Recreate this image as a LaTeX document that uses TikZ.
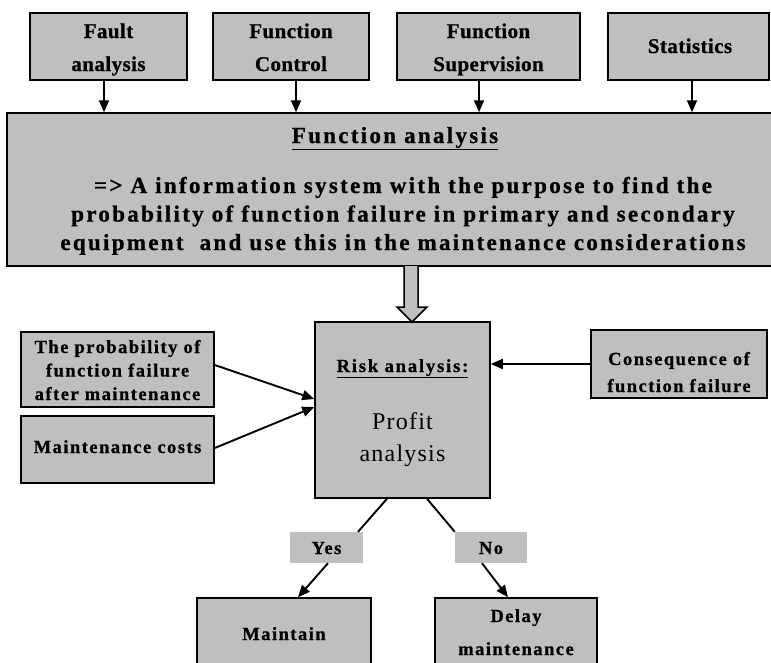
\documentclass[tikz,border=0pt]{standalone}
\usepackage{fontspec}
\setmainfont{Liberation Serif}
\newfontfamily\fTop[LetterSpace=2, BoldFeatures={FakeBold=0.8}]{Liberation Serif}
\newfontfamily\fSide[LetterSpace=8, BoldFeatures={FakeBold=0.8}]{Liberation Serif}
\newfontfamily\fBig[LetterSpace=10, BoldFeatures={FakeBold=0.8}]{Liberation Serif}
\newfontfamily\fRisk[LetterSpace=10, BoldFeatures={FakeBold=0.8}]{Liberation Serif}
\newfontfamily\fProfit[LetterSpace=5]{Liberation Serif}
\usetikzlibrary{arrows.meta,calc}
\definecolor{boxgray}{gray}{0.75}
\tikzset{
  box/.style={draw, fill=boxgray, line width=1.5pt, rectangle, inner sep=0pt},
  tag/.style={fill=boxgray, rectangle, inner sep=0pt},
  % multi-line texts are placed by the baseline of their last line
  txt/.style={inner sep=0pt, anchor=base, align=center},
  toptext/.style={txt, font=\fTop\bfseries\fontsize{21}{33}\selectfont},
  sidetext/.style={txt, font=\fSide\bfseries\fontsize{18.5}{23.5}\selectfont},
  bigtext/.style={txt, font=\fBig\bfseries\fontsize{23}{28.5}\selectfont},
  conn/.style={line width=1.9pt, -{Triangle[length=12pt,width=10pt]}},
  plain/.style={line width=1.9pt}
}
\begin{document}
\begin{tikzpicture}[x=1pt,y=-1pt]
\useasboundingbox (0,0) rectangle (771,662);

% input boxes along the top
\node[box, minimum width=157pt, minimum height=67pt] (fa) at (108.5,46.5) {};
\node[box, minimum width=156pt, minimum height=67pt] (fc) at (291,46.5) {};
\node[box, minimum width=183pt, minimum height=67pt] (fs) at (488.5,46.5) {};
\node[box, minimum width=161pt, minimum height=67pt] (st) at (688.5,46.5) {};
\node[toptext] (faT) at (108.5,71) {Fault\\analysis};
\node[toptext] (fcT) at (291,71) {Function\\Control};
\node[toptext] (fsT) at (488.5,71) {Function\\Supervision};
\node[toptext] (stT) at (690,53) {Statistics};

% function analysis band
\node[box, minimum width=780pt, minimum height=153pt] (big) at (397,189.5) {};
\node[bigtext] (bigT) at (395,143) {\underline{Function analysis}};
\node[bigtext] (bigB) at (403,250) {=> A information system with the purpose to find the\\
probability of function failure in primary and secondary\\
equipment~ and use this in the maintenance considerations};

\draw[conn] ([xshift=-4.5pt]fa.south) -- ([xshift=-4.5pt]fa.south |- big.north);
\draw[conn] ([xshift=5pt]fc.south) -- ([xshift=5pt]fc.south |- big.north);
\draw[conn] ([xshift=-9.5pt]fs.south) -- ([xshift=-9.5pt]fs.south |- big.north);
\draw[conn] ([xshift=3.5pt]st.south) -- ([xshift=3.5pt]st.south |- big.north);

% risk analysis box
\node[box, minimum width=175pt, minimum height=176pt] (risk) at (402.5,410) {};
\node[txt, font=\fRisk\bfseries\fontsize{18.5}{22}\selectfont] (riskT) at (402.5,372) {\underline{Risk analysis:}};
\node[txt, font=\fProfit\fontsize{24}{32}\selectfont] (profT) at (402.5,461) {Profit\\analysis};

% hollow arrow from the band into the risk box
\coordinate (tip) at (412,322);
\draw[fill=boxgray, line width=1.5pt, line join=miter]
  (404,266) -- (404,307) -- (397,307) -- (tip) -- (427,307) -- (418,307) -- (418,266);

% side inputs
\node[box, minimum width=193pt, minimum height=75pt] (prob) at (117.5,369.5) {};
\node[sidetext] (probT) at (117.5,400) {The probability of\\function failure\\after maintenance};
\node[box, minimum width=193pt, minimum height=67pt] (cost) at (117.5,449.5) {};
\node[sidetext] (costT) at (117.5,453) {Maintenance costs};
\node[box, minimum width=176pt, minimum height=68pt] (cons) at (679,364) {};
\node[sidetext, font=\fSide\bfseries\fontsize{18.5}{27}\selectfont] (consT) at (679,392) {Consequence of\\function failure};

\draw[conn] ([yshift=4.5pt]prob.east) -- ([yshift=11pt]risk.west);
\draw[conn] ([yshift=1.5pt]cost.east) -- ([yshift=3pt]risk.west);
\draw[conn] (cons.west) -- (cons.west -| risk.east);

% decision
\node[tag, minimum width=73pt, minimum height=31pt] (yes) at (326.5,547.5) {};
\node[sidetext] (yesT) at (326.5,554) {Yes};
\node[tag, minimum width=72pt, minimum height=31pt] (no) at (491,547.5) {};
\node[sidetext] (noT) at (491,554) {No};

\draw[plain] ([xshift=-15.5pt]risk.south) -- ([xshift=31.5pt]yes.north);
\draw[plain] ([xshift=24.5pt]risk.south) -- (no.north west);

% outcomes
\node[box, minimum width=174pt, minimum height=90pt] (maint) at (284,643) {};
\node[sidetext] (maintT) at (284,640) {Maintain};
\node[box, minimum width=162pt, minimum height=90pt] (delay) at (516,643) {};
\node[sidetext, font=\fSide\bfseries\fontsize{18.5}{33}\selectfont] (delayT) at (516,655) {Delay\\maintenance};

\draw[conn] ([xshift=1.5pt]yes.south) -- ([xshift=14pt]maint.north);
\draw[conn] ([xshift=-9pt]no.south) -- ([xshift=-8pt]delay.north);
\end{tikzpicture}
\end{document}
